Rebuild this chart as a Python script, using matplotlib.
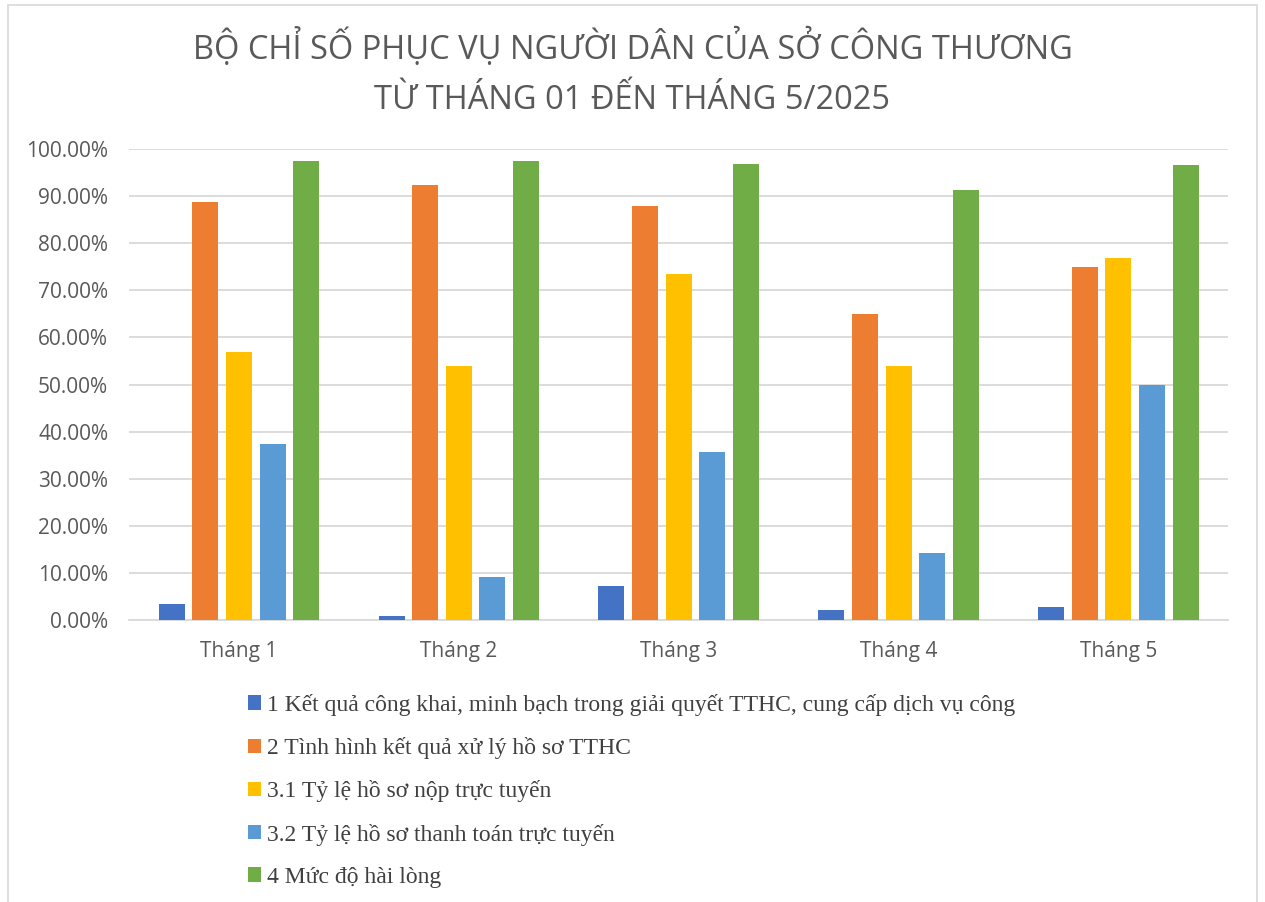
import matplotlib.pyplot as plt
from matplotlib.patches import Rectangle
from matplotlib.ticker import PercentFormatter
import numpy as np

# data
months = ["Tháng 1", "Tháng 2", "Tháng 3", "Tháng 4", "Tháng 5"]
series_names = [
    "1 Kết quả công khai, minh bạch trong giải quyết TTHC, cung cấp dịch vụ công",
    "2 Tình hình kết quả xử lý hồ sơ TTHC",
    "3.1 Tỷ lệ hồ sơ nộp trực tuyến",
    "3.2 Tỷ lệ hồ sơ thanh toán trực tuyến",
    "4 Mức độ hài lòng",
]
cong_khai = [3.4, 0.9, 7.2, 2.1, 2.8]
xu_ly_ho_so = [88.8, 92.4, 87.9, 65.0, 74.9]
nop_truc_tuyen = [57.0, 54.0, 73.5, 54.0, 76.9]
thanh_toan_truc_tuyen = [37.4, 9.1, 35.7, 14.3, 50.0]
hai_long = [97.5, 97.5, 96.8, 91.3, 96.7]

colors = ["#4472C4", "#ED7D31", "#FFC000", "#5B9BD5", "#70AD47"]
all_series = [cong_khai, xu_ly_ho_so, nop_truc_tuyen, thanh_toan_truc_tuyen, hai_long]

fig = plt.figure(figsize=(12.65, 9.02), dpi=100)
ax = fig.add_axes([0.102, 0.3126, 0.869, 0.5222])

x = np.arange(len(months))
step = 0.153
width = 0.118
for i, (vals, name, col) in enumerate(zip(all_series, series_names, colors)):
    ax.bar(x + (i - 2) * step, vals, width, color=col, label=name, zorder=3)

ax.set_xlim(-0.5, len(months) - 0.5)
ax.set_ylim(0, 100)
ax.set_yticks(np.arange(0, 101, 10))
ax.yaxis.set_major_formatter(PercentFormatter(100, decimals=2))
ax.set_xticks(x)
ax.set_xticklabels(months)
ax.grid(axis="y", color="#d9d9d9", linewidth=1.3, zorder=0)
for s in ["top", "right", "left"]:
    ax.spines[s].set_visible(False)
ax.spines["bottom"].set_color("#d9d9d9")
ax.spines["bottom"].set_linewidth(1.3)
ax.tick_params(length=0, labelsize=15, colors="#595959")
ax.tick_params(axis="y", pad=15)
ax.tick_params(axis="x", pad=15)
for lbl in ax.get_xticklabels() + ax.get_yticklabels():
    lbl.set_family("Open Sans")

fig.text(0.5, 0.9196, "BỘ CHỈ SỐ PHỤC VỤ NGƯỜI DÂN CỦA SỞ CÔNG THƯƠNG\nTỪ THÁNG 01 ĐẾN THÁNG 5/2025",
         ha="center", va="center", fontsize=23.5, color="#595959", family="Open Sans",
         linespacing=1.67)

leg = fig.legend(loc="upper left", bbox_to_anchor=(0.1866, 0.2438), frameon=False,
                 prop={"family": "Liberation Serif", "size": 17}, borderpad=0,
                 handlelength=0.55, handleheight=0.55, handletextpad=0.25,
                 labelspacing=0.9, labelcolor="#404040")

# chart area border
fig.patches.append(Rectangle((0.006, -0.01), 0.988, 1.004, transform=fig.transFigure,
                             fill=False, edgecolor="#d9d9d9", linewidth=1.2))

fig.savefig("out.png", dpi=100)
